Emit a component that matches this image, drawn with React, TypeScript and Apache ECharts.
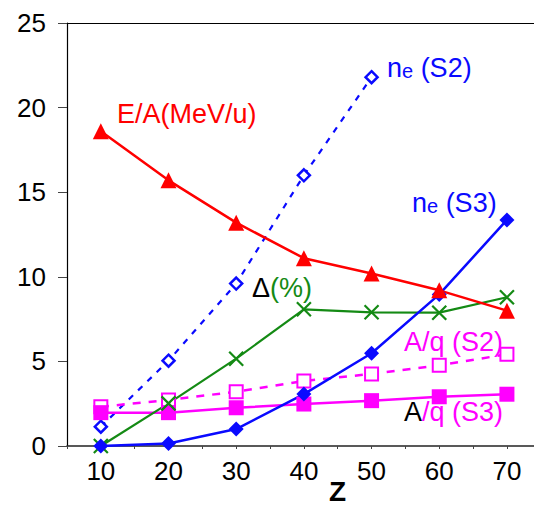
import React, { useEffect, useRef } from "react";
import * as echarts from "echarts";

const zValues = [10, 20, 30, 40, 50, 60, 70];
const energyPerA = [18.6, 15.7, 13.2, 11.1, 10.2, 9.2, 8.0];
const neS2 = [1.14, 5.04, 9.6, 16.0, 21.8];
const neS3 = [0.0, 0.15, 1.0, 3.07, 5.48, 8.96, 13.36];
const deltaPct = [0.0, 2.52, 5.16, 8.08, 7.9, 7.88, 8.79];
const aqS2 = [2.32, 2.72, 3.21, 3.84, 4.26, 4.77, 5.42];
const aqS3 = [1.97, 1.97, 2.26, 2.48, 2.68, 2.91, 3.06];
const yTicks = [0, 5, 10, 15, 20, 25];

const FONT = "Liberation Sans, Arial, Helvetica, sans-serif";
const RED = "#ff0000";
const BLUE = "#0a0aff";
const GREEN = "#148a14";
const MAGENTA = "#ff00ff";

function pairs(ys: number[]) {
  return ys.map((y, i) => [zValues[i], y]);
}

export default function App() {
  const ref = useRef<HTMLDivElement>(null);
  useEffect(() => {
    if (!ref.current) return;
    const chart = echarts.init(ref.current, null, { renderer: "svg" });
    const label = (text: string, x: number, y: number, color: string) => ({
      type: "text",
      x,
      y,
      style: { text, fill: color, font: `27px ${FONT}`, textVerticalAlign: "middle" },
    });
    const neRich = {
      n: { fontSize: 27, fontFamily: FONT, fill: BLUE, verticalAlign: "bottom" },
      e: { fontSize: 20, fontFamily: FONT, fill: BLUE, padding: [14, 0, 0, 0], verticalAlign: "bottom" },
    };
    chart.setOption({
      animation: false,
      backgroundColor: "#ffffff",
      grid: { left: 67, right: 0, top: 23, bottom: 60 },
      xAxis: [
        {
          type: "value",
          min: 5,
          max: 74,
          interval: 5,
          axisLine: { show: true, lineStyle: { color: "#222", width: 1.5 } },
          axisTick: { show: true, length: 3, lineStyle: { color: "#444" } },
          splitLine: { show: false },
          axisLabel: {
            margin: 12,
            color: "#000",
            fontFamily: FONT,
            fontSize: 26,
            showMaxLabel: false,
            formatter: (v: number) => (v % 10 === 0 ? String(v) : ""),
          },
        },
        {
          type: "value",
          position: "top",
          min: 5,
          max: 74,
          axisLine: { show: true, lineStyle: { color: "#000", width: 1.2 } },
          axisTick: { show: false },
          axisLabel: { show: false },
          splitLine: { show: false },
        },
      ],
      yAxis: {
        type: "value",
        min: yTicks[0],
        max: yTicks[yTicks.length - 1],
        interval: 5,
        axisLine: { show: true, lineStyle: { color: "#000", width: 1.2 } },
        axisTick: { show: true, length: 9, lineStyle: { color: "#444" } },
        splitLine: { show: false },
        axisLabel: {
          margin: 21,
          color: "#000",
          fontFamily: FONT,
          fontSize: 26,
        },
      },
      series: [
        {
          name: "ne S2",
          type: "line",
          data: pairs(neS2),
          symbol: "diamond",
          symbolSize: 12,
          lineStyle: { color: BLUE, width: 2.2, type: [6, 7] },
          itemStyle: { color: "#fff", borderColor: BLUE, borderWidth: 2.5 },
        },
        {
          name: "A/q S2",
          type: "line",
          data: pairs(aqS2),
          symbol: "rect",
          symbolSize: 13,
          lineStyle: { color: MAGENTA, width: 2.5, type: [8, 8] },
          itemStyle: { color: "#fff", borderColor: MAGENTA, borderWidth: 2 },
        },
        {
          name: "A/q S3",
          type: "line",
          data: pairs(aqS3),
          symbol: "rect",
          symbolSize: 15,
          lineStyle: { color: MAGENTA, width: 2.5 },
          itemStyle: { color: MAGENTA },
        },
        {
          name: "Delta",
          type: "line",
          data: pairs(deltaPct),
          symbol: "path://M0,0L10,10M10,0L0,10",
          symbolSize: 14,
          lineStyle: { color: GREEN, width: 2.2 },
          itemStyle: { color: "none", borderColor: GREEN, borderWidth: 2.2 },
        },
        {
          name: "ne S3",
          type: "line",
          data: pairs(neS3),
          symbol: "diamond",
          symbolSize: 15,
          lineStyle: { color: BLUE, width: 2.5 },
          itemStyle: { color: BLUE },
        },
        {
          name: "E/A",
          type: "line",
          data: pairs(energyPerA),
          symbol: "triangle",
          symbolSize: 16,
          lineStyle: { color: RED, width: 2.5 },
          itemStyle: { color: RED },
        },
      ],
      graphic: [
        label("E/A(MeV/u)", 117, 114, RED),
        {
          type: "text",
          left: 387,
          top: 54,
          style: { text: "{n|n}{e|e}{n| (S2)}", fill: BLUE, rich: neRich },
        },
        {
          type: "text",
          left: 412,
          top: 189,
          style: { text: "{n|n}{e|e}{n| (S3)}", fill: BLUE, rich: neRich },
        },
        {
          type: "text",
          x: 252,
          y: 288,
          style: {
            text: "{k|Δ}{g|(%)}",
            textVerticalAlign: "middle",
            rich: {
              k: { fontSize: 27, fontFamily: FONT, fill: "#000" },
              g: { fontSize: 27, fontFamily: FONT, fill: GREEN },
            },
          },
        },
        label("A/q (S2)", 404, 342, MAGENTA),
        {
          type: "text",
          x: 404,
          y: 412,
          style: {
            text: "{k|A}{m|/q (S3)}",
            textVerticalAlign: "middle",
            rich: {
              k: { fontSize: 27, fontFamily: FONT, fill: "#000" },
              m: { fontSize: 27, fontFamily: FONT, fill: MAGENTA },
            },
          },
        },
        {
          type: "text",
          left: 329,
          top: 477,
          style: {
            text: "Z",
            fill: "#000",
            font: `bold 28px ${FONT}`,
          },
        },
      ],
    });
    return () => chart.dispose();
  }, []);
  return (
    <div
      ref={ref}
      style={{ position: "absolute", left: 0, top: 0, width: 534, height: 506 }}
    />
  );
}
